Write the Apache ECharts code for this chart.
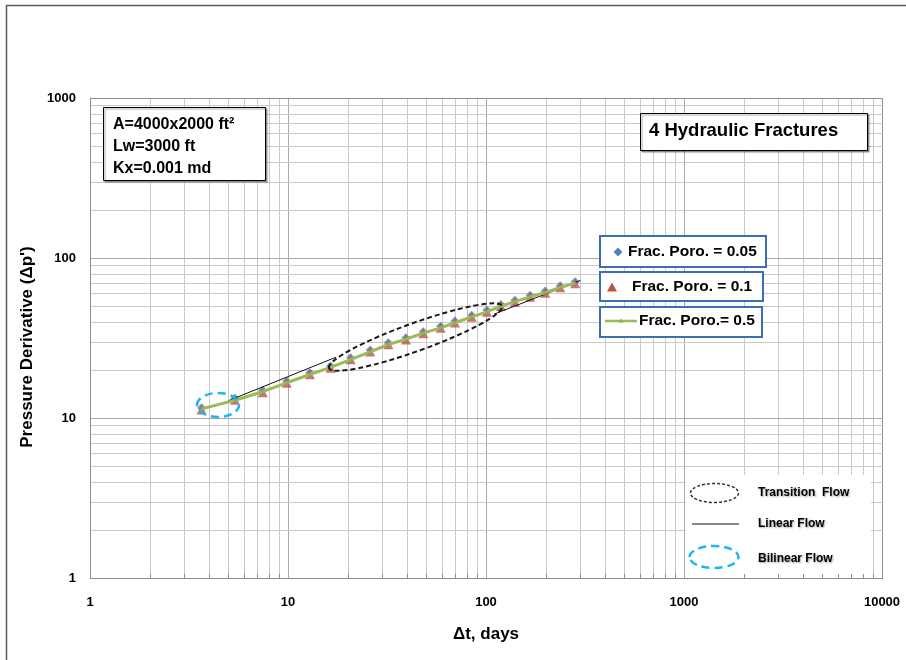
<!DOCTYPE html>
<html>
<head>
<meta charset="utf-8">
<script src="https://cdn.jsdelivr.net/npm/echarts@6/dist/echarts.min.js"></script>
<style>
  html, body { margin: 0; padding: 0; background: #fff; }
  #chart { width: 906px; height: 660px; }
</style>
</head>
<body>
<div id="chart"></div>
<script>
// Elapsed shut-in time, days
const elapsedDays = [3.66, 5.40, 7.45, 9.85, 12.9, 16.4, 20.7, 26.0, 32.1, 39.4, 48.2,
                     59.0, 69.7, 84.7, 101, 119, 140, 167, 199, 237, 282];
// Pressure derivative for each fracture porosity case
const derivPoro005 = [11.6, 13.3, 14.9, 17.0, 19.2, 21.1, 23.8, 26.6, 29.5, 31.7, 34.6,
                      37.5, 40.4, 43.9, 47.2, 51.2, 54.5, 58.6, 62.1, 67.0, 71.0];
const derivPoro01  = [11.3, 13.0, 14.5, 16.6, 18.8, 20.6, 23.3, 26.0, 28.9, 31.0, 33.8,
                      36.7, 39.5, 43.0, 46.2, 50.1, 53.3, 57.3, 60.7, 65.6, 69.5];
const derivPoro05  = [11.4, 12.9, 14.6, 16.6, 18.7, 20.7, 23.2, 25.9, 28.8, 31.1, 33.9,
                      36.6, 39.4, 42.9, 46.1, 50.0, 53.4, 57.2, 60.8, 65.4, 69.6];
// Half-slope (linear flow) guide lines
const linearFlowEarly = [[4.98, 12.8], [17.5, 24.0]];
const linearFlowLate  = [[110, 44.6], [300, 72.5]];
// Flow-regime outlines: transition ellipse tips and bilinear ellipse centre
const transitionTips = [[16.1, 20.5], [120.5, 50.1]];
const bilinearCentre = [4.43, 12.06];
// Axis decades and tick labels
const xDecades = [1, 10, 100, 1000, 10000];
const yDecades = [1, 10, 100, 1000];
const minorSteps = [2, 3, 4, 5, 6, 7, 8, 9];

const FONT = '"Liberation Sans", Arial, sans-serif';
const X_MIN = 1, X_MAX = 10000, Y_MIN = 1, Y_MAX = 1000;

function gridValues(decades) {
  const out = [];
  decades.forEach((d, i) => {
    out.push([d, 1]);
    if (i < decades.length - 1) minorSteps.forEach(m => out.push([d * m, 0]));
  });
  return out;
}
const xGrid = gridValues(xDecades);
const yGrid = gridValues(yDecades);

function gridColour(v, major, lo, hi) {
  if (v === lo || v === hi) return '#8f8f8f';
  return major ? '#a9a9a9' : '#c9c9c9';
}

const chart = echarts.init(document.getElementById('chart'), null, { renderer: 'canvas' });

const pair = arr => elapsedDays.map((x, i) => [x, arr[i]]);

chart.setOption({
  animation: false,
  backgroundColor: '#ffffff',
  grid: { left: 90, top: 98, width: 792, height: 480 },
  xAxis: {
    type: 'log', logBase: 10, min: X_MIN, max: X_MAX,
    name: 'Δt, days', nameLocation: 'middle', nameGap: 48,
    nameTextStyle: { fontFamily: FONT, fontWeight: 'bold', fontSize: 17, color: '#000' },
    axisLine: { show: true, lineStyle: { color: '#8f8f8f', width: 1 } },
    axisTick: { show: false },
    splitLine: { show: false },
    axisLabel: {
      margin: 18, fontFamily: FONT, fontWeight: 'bold', fontSize: 13, color: '#000',
      formatter: v => String(Math.round(v))
    }
  },
  yAxis: {
    type: 'log', logBase: 10, min: Y_MIN, max: Y_MAX,
    name: "Pressure Derivative (Δp')", nameLocation: 'middle', nameGap: 46, nameRotate: 90,
    nameTextStyle: { fontFamily: FONT, fontWeight: 'bold', fontSize: 17, color: '#000',
                     padding: [0, 18, 0, 0] },
    axisLine: { show: true, lineStyle: { color: '#8f8f8f', width: 1 } },
    axisTick: { show: false },
    splitLine: { show: false },
    axisLabel: {
      margin: 14, fontFamily: FONT, fontWeight: 'bold', fontSize: 13, color: '#000',
      formatter: v => String(Math.round(v))
    }
  },
  series: [
    {
      // vertical grid lines
      type: 'custom', silent: true, clip: false, z: 1,
      data: xGrid.map(g => [g[0], Y_MIN, g[1]]),
      encode: { x: 0, y: 1 },
      renderItem: (params, api) => {
        const v = api.value(0);
        const p1 = api.coord([v, Y_MIN]), p2 = api.coord([v, Y_MAX]);
        const x = Math.round(p1[0]) + 0.5;
        return { type: 'line', shape: { x1: x, y1: Math.round(p1[1]) + 0.5, x2: x, y2: Math.round(p2[1]) + 0.5 },
                 style: { stroke: gridColour(v, api.value(2), X_MIN, X_MAX), lineWidth: 1 } };
      }
    },
    {
      // horizontal grid lines
      type: 'custom', silent: true, clip: false, z: 1,
      data: yGrid.map(g => [X_MIN, g[0], g[1]]),
      encode: { x: 0, y: 1 },
      renderItem: (params, api) => {
        const v = api.value(1);
        const p1 = api.coord([X_MIN, v]), p2 = api.coord([X_MAX, v]);
        const y = Math.round(p1[1]) + 0.5;
        return { type: 'line', shape: { x1: Math.round(p1[0]) + 0.5, y1: y, x2: Math.round(p2[0]) + 0.5, y2: y },
                 style: { stroke: gridColour(v, api.value(2), Y_MIN, Y_MAX), lineWidth: 1 } };
      }
    },
    {
      name: 'Frac. Poro. = 0.05', type: 'scatter', z: 3,
      symbol: 'diamond', symbolSize: 9,
      itemStyle: { color: '#4F81BD' },
      data: pair(derivPoro005)
    },
    {
      name: 'Frac. Poro. = 0.1', type: 'scatter', z: 4,
      symbol: 'triangle', symbolSize: 10,
      itemStyle: { color: '#C0504D' },
      data: pair(derivPoro01)
    },
    {
      name: 'Linear Flow (early)', type: 'line', z: 5,
      symbol: 'none', lineStyle: { color: '#111', width: 1 },
      data: linearFlowEarly
    },
    {
      name: 'Linear Flow (late)', type: 'line', z: 5,
      symbol: 'none', lineStyle: { color: '#111', width: 1 },
      data: linearFlowLate
    },
    {
      name: 'Frac. Poro.= 0.5', type: 'line', z: 6,
      symbol: 'triangle', symbolSize: 4, showSymbol: true,
      lineStyle: { color: '#9BBB59', width: 3 },
      itemStyle: { color: '#8EB04A' },
      data: pair(derivPoro05)
    }
  ]
});

// Annotation layer: boxes, flow-regime outlines and their key
const px = v => chart.convertToPixel({ gridIndex: 0 }, v);
const graphics = [];

// outer frame
graphics.push({ type: 'rect', z: 20, silent: true,
  shape: { x: 6.5, y: 5.5, width: 1000, height: 1000 },
  style: { fill: 'none', stroke: '#5a5a5a', lineWidth: 1.5 } });

// transition flow ellipse spanning its two tips
(function () {
  const a = px(transitionTips[0]), b = px(transitionTips[1]);
  const cx = (a[0] + b[0]) / 2, cy = (a[1] + b[1]) / 2;
  const half = Math.hypot(b[0] - a[0], b[1] - a[1]) / 2;
  graphics.push({ type: 'ellipse', z: 12, silent: true, x: cx, y: cy,
    rotation: Math.atan2(a[1] - b[1], b[0] - a[0]),
    shape: { cx: 0, cy: 0, rx: half, ry: 14 },
    style: { fill: 'none', stroke: '#1a1a1a', lineWidth: 2, lineDash: [5, 3] } });
})();

// bilinear flow ellipse
(function () {
  const c = px(bilinearCentre);
  graphics.push({ type: 'ellipse', z: 12, silent: true,
    shape: { cx: c[0], cy: c[1], rx: 21, ry: 12 },
    style: { fill: 'none', stroke: '#1FB5EE', lineWidth: 2.5, lineDash: [8, 5] } });
})();

function boxText(text, x, y, size) {
  return { type: 'text', z: 31, silent: true,
    style: { text: text, x: x, y: y, font: 'bold ' + size + 'px ' + FONT, fill: '#000',
             textAlign: 'left', textVerticalAlign: 'middle', verticalAlign: 'middle' } };
}

// reservoir parameters box
graphics.push({ type: 'rect', z: 30, silent: true,
  shape: { x: 103.5, y: 107.5, width: 162, height: 73 },
  style: { fill: '#fff', stroke: '#000', lineWidth: 1, shadowColor: 'rgba(0,0,0,0.35)', shadowOffsetX: 1.5, shadowOffsetY: 1.5, shadowBlur: 1 } });
graphics.push(boxText('A=4000x2000 ft²', 113, 125, 16));
graphics.push(boxText('Lw=3000 ft', 113, 147, 16));
graphics.push(boxText('Kx=0.001 md', 113, 169, 16));

// title box
graphics.push({ type: 'rect', z: 30, silent: true,
  shape: { x: 640.5, y: 113.5, width: 227, height: 37 },
  style: { fill: '#fff', stroke: '#000', lineWidth: 1, shadowColor: 'rgba(0,0,0,0.35)', shadowOffsetX: 1.5, shadowOffsetY: 1.5, shadowBlur: 1 } });
graphics.push(boxText('4 Hydraulic Fractures', 649, 131, 18.5));

// series key boxes
const keyStroke = '#3D6DB5';
graphics.push({ type: 'rect', z: 30, silent: true, shape: { x: 600, y: 236, width: 166, height: 31 },
  style: { fill: '#fff', stroke: keyStroke, lineWidth: 2 } });
graphics.push({ type: 'polygon', z: 31, silent: true,
  shape: { points: [[618, 247.5], [622.5, 252], [618, 256.5], [613.5, 252]] },
  style: { fill: '#4F81BD' } });
graphics.push(boxText('Frac. Poro. = 0.05', 628, 252, 15.5));

graphics.push({ type: 'rect', z: 30, silent: true, shape: { x: 600, y: 272, width: 163, height: 29 },
  style: { fill: '#fff', stroke: keyStroke, lineWidth: 2 } });
graphics.push({ type: 'polygon', z: 31, silent: true,
  shape: { points: [[612, 282.5], [617, 291.5], [607, 291.5]] },
  style: { fill: '#C0504D' } });
graphics.push(boxText('Frac. Poro. = 0.1', 632, 287, 15.5));

graphics.push({ type: 'rect', z: 30, silent: true, shape: { x: 600, y: 307, width: 162, height: 30 },
  style: { fill: '#fff', stroke: keyStroke, lineWidth: 2 } });
graphics.push({ type: 'line', z: 31, silent: true, shape: { x1: 605, y1: 321, x2: 637, y2: 321 },
  style: { stroke: '#9BBB59', lineWidth: 2.5 } });
graphics.push({ type: 'polygon', z: 32, silent: true,
  shape: { points: [[621, 318.5], [623.5, 322.5], [618.5, 322.5]] },
  style: { fill: '#8EB04A' } });
graphics.push(boxText('Frac. Poro.= 0.5', 639, 321, 15.5));

// flow-regime key (white panel over the grid)
graphics.push({ type: 'rect', z: 30, silent: true, shape: { x: 686, y: 475, width: 185, height: 102.5 },
  style: { fill: '#fff', stroke: 'none' } });
// small inward ticks along the bottom axis, visible on the white panel
xGrid.forEach(g => {
  if (g[1]) return;
  const p = px([g[0], Y_MIN]);
  const x = Math.round(p[0]) + 0.5;
  graphics.push({ type: 'line', z: 31, silent: true, shape: { x1: x, y1: p[1], x2: x, y2: p[1] - 4 },
    style: { stroke: '#8f8f8f', lineWidth: 1 } });
});
graphics.push({ type: 'ellipse', z: 31, silent: true, shape: { cx: 714.5, cy: 493, rx: 24, ry: 9.5 },
  style: { fill: 'none', stroke: '#333', lineWidth: 1.5, lineDash: [3, 2] } });
graphics.push({ type: 'line', z: 31, silent: true, shape: { x1: 692, y1: 524, x2: 739, y2: 524 },
  style: { stroke: '#111', lineWidth: 1 } });
graphics.push({ type: 'ellipse', z: 31, silent: true, shape: { cx: 714, cy: 557, rx: 24.5, ry: 11 },
  style: { fill: 'none', stroke: '#1FB5EE', lineWidth: 2.5, lineDash: [8, 5] } });
const shadowStyle = { textShadowColor: 'rgba(0,0,0,0.35)', textShadowBlur: 2, textShadowOffsetX: 1, textShadowOffsetY: 1 };
[['Transition  Flow', 493], ['Linear Flow', 524], ['Bilinear Flow', 559]].forEach(t => {
  const el = boxText(t[0], 758, t[1], 12);
  Object.assign(el.style, shadowStyle);
  graphics.push(el);
});

chart.setOption({ graphic: { elements: graphics } });
</script>
</body>
</html>
